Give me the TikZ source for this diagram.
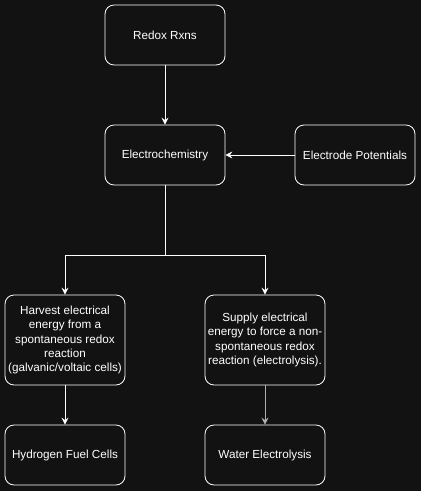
\documentclass[tikz,border=0pt]{standalone}
\usepackage{fontspec}
\setmainfont{Liberation Sans}
\usetikzlibrary{arrows.meta}

\definecolor{bgdark}{HTML}{121212}
\definecolor{softgray}{HTML}{B0B0B0}

\begin{document}
\begin{tikzpicture}[x=1pt,y=-1pt]
  \tikzset{box/.style = {shape=rectangle,draw=white,rounded corners=9pt,minimum width=120pt,minimum height=60pt,align=center,text=white,font=\fontsize{11.7pt}{14.3pt}\selectfont,inner sep=0pt,line width=0.8pt}}
  \tikzset{tallbox/.style = {box,minimum height=90pt}}
  \tikzset{edge/.style = {draw=white,line width=0.8pt,-{Stealth[length=7pt,width=7pt,inset=2.5pt]}}}

  \fill[bgdark] (0,0) rectangle (421,491);
  \useasboundingbox (0,0) rectangle (421,491);

	\node[box] (redox) at (165,35) {Redox Rxns};
	\node[box] (chem) at (165,155) {Electrochemistry};
	\node[box] (potentials) at (355,155) {Electrode Potentials};
	\node[tallbox] (harvest) at (65,340) {Harvest electrical\\energy from a\\spontaneous redox\\reaction\\(galvanic/voltaic cells)};
	\node[tallbox] (supply) at (265,340) {Supply electrical\\energy to force a non-\\spontaneous redox\\reaction (electrolysis).};
	\node[box] (fuel) at (65,455) {Hydrogen Fuel Cells};
	\node[box] (water) at (265,455) {Water Electrolysis};
	\coordinate (split) at (165,255);

    \foreach \from/\to in {redox/chem, potentials/chem, harvest/fuel}
    \path[edge] (\from) -- (\to);
    \draw[white,line width=0.8pt] (chem) -- (split);
    \foreach \to in {harvest, supply}
    \path[edge] (split) -| (\to);
    \path[edge,draw=softgray] (supply) -- (water);
\end{tikzpicture}
\end{document}
